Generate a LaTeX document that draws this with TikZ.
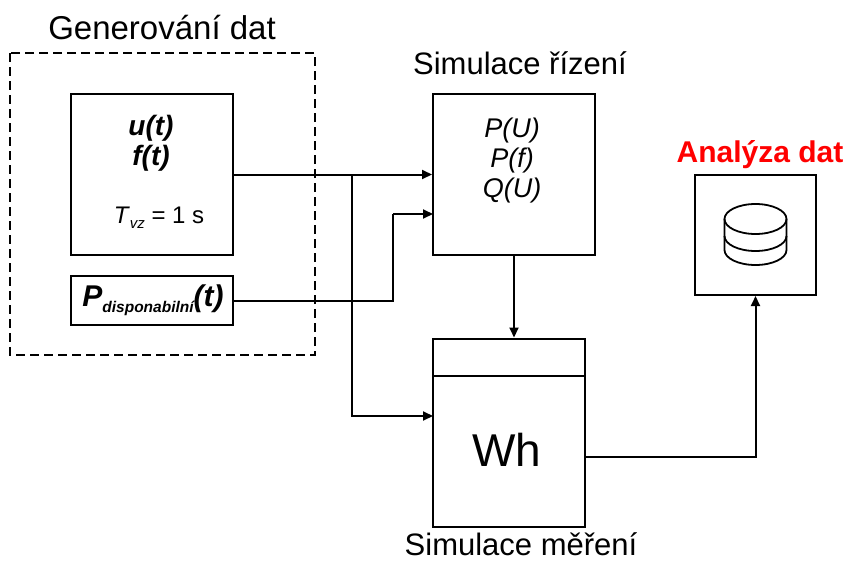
\documentclass[tikz,border=0pt]{standalone}
\usepackage{fontspec}
\setmainfont{Liberation Sans}
\usetikzlibrary{arrows.meta}
\begin{document}
\begin{tikzpicture}[x=1pt,y=-1pt,
  box/.style={draw,line width=2pt,inner sep=0pt},
  conn/.style={line width=2pt},
  arr/.style={line width=2pt,-{Triangle[length=10pt,width=9pt]}},
  lbl/.style={inner sep=0pt,anchor=base,font=\fontsize{31}{36}\selectfont},
  sym/.style={inner sep=0pt,anchor=base,font=\fontsize{27}{30}\selectfont\itshape}
]
\useasboundingbox (0,0) rectangle (851,562);
% group
\draw[line width=1.8pt,dash pattern=on 9pt off 5pt] (10,53) rectangle (315,355);
\node[lbl,font=\fontsize{33}{38}\selectfont] (gtitle) at (162,39) {Generování dat};
% boxes
\node[box,minimum width=162pt,minimum height=161pt] (u) at (152,174.5) {};
\node[box,minimum width=162pt,minimum height=49pt] (pd) at (152,300.5) {};
\node[box,minimum width=162pt,minimum height=161pt] (sim) at (514,174.5) {};
\node[box,minimum width=152pt,minimum height=188pt] (meas) at (509,432.5) {};
\node[box,minimum width=121pt,minimum height=120pt] (ana) at (755.5,235) {};
% titles
\node[lbl] (simt) at (520,74) {Simulace řízení};
\node[lbl] (meast) at (521,555) {Simulace měření};
\node[lbl,font=\fontsize{30}{36}\selectfont\bfseries,text={rgb,255:red,255;green,0;blue,0}] (anat) at (760,162) {Analýza dat};
% contents
\node[sym,font=\fontsize{28}{30}\selectfont\bfseries\itshape] (ut) at (151,135) {u(t)};
\node[sym,font=\fontsize{28}{30}\selectfont\bfseries\itshape] (ft) at (151,165) {f(t)};
\node[inner sep=0pt,anchor=base,font=\fontsize{24}{28}\selectfont] (tvz) at (159,223) {\textit{T}\raisebox{-0.22em}{\fontsize{15}{15}\selectfont\itshape vz} = 1 s};
\node[inner sep=0pt,anchor=base,font=\fontsize{30}{34}\selectfont\bfseries\itshape] (pdt) at (153,306) {P\raisebox{-0.2em}{\fontsize{15.5}{16}\selectfont disponabilní}(t)};
\node[sym] (pu) at (512,137) {P(U)};
\node[sym] (pf) at (512,167) {P(f)};
\node[sym] (qu) at (512,197) {Q(U)};
\node[inner sep=0pt,anchor=base,font=\fontsize{46}{50}\selectfont] (wh) at (507,466) {Wh};
\draw[line width=2pt] (meas.west |- 0,376) -- (meas.east |- 0,376);
% database icon
\begin{scope}[line width=1.8pt]
  \draw (724.5,219) -- (724.5,250) arc[start angle=180,end angle=360,x radius=31pt,y radius=15pt] -- (786.5,219);
  \draw (755.5,219) ellipse[x radius=31pt,y radius=15pt];
  \draw (724.5,236) arc[start angle=180,end angle=360,x radius=31pt,y radius=15pt];
\end{scope}
% connectors
\coordinate (j) at (352,174.5);
\coordinate (pdup) at (393,214);
\coordinate (simin2) at (433,214);
\coordinate (measin) at (433,416);
\coordinate (measout) at (585,457);
\draw[arr] (u.east) -- (sim.west);
\draw[arr] (j) |- (measin);
\draw[conn] (pd.east) -| (pdup);
\draw[arr] (pdup) -- (simin2);
\draw[arr] (sim.south) -- (sim.south |- meas.north);
\draw[arr] (measout) -| (ana.south);
\end{tikzpicture}
\end{document}
